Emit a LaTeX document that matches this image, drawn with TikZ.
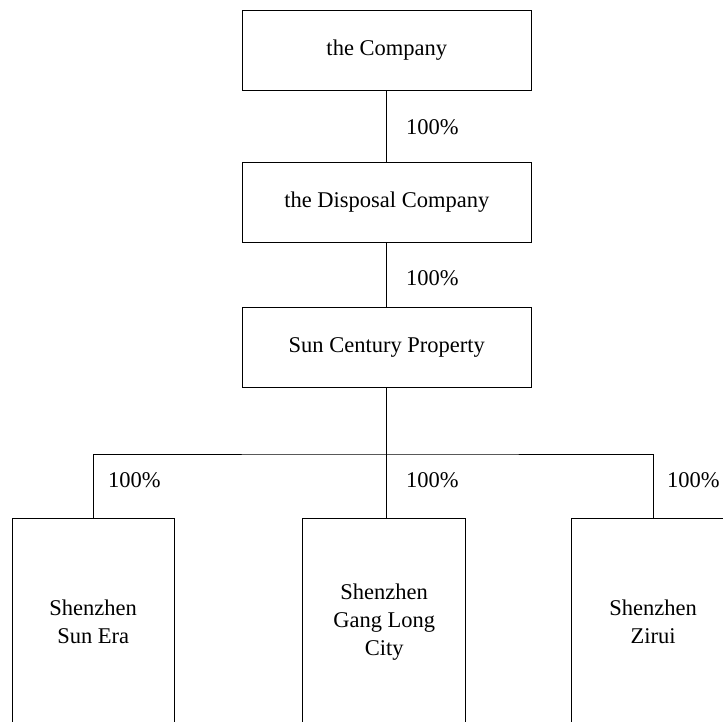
\documentclass[tikz,border=0pt]{standalone}
\usepackage{fontspec}
\setmainfont{Liberation Serif}
\begin{document}
\begin{tikzpicture}[x=1pt,y=-1pt,
  box/.style={draw=black,line width=0.9pt,rectangle,inner sep=0pt,align=center,
    font=\fontsize{22.5}{28}\selectfont},
  pct/.style={anchor=west,inner sep=0pt,font=\fontsize{22.5}{28}\selectfont},
  link/.style={draw=black,line width=0.9pt}]
\useasboundingbox (0,0) rectangle (723,722);
\node[box,minimum width=289.5pt,minimum height=80pt] (comp) at (386.8,50) {the Company};
\node[box,minimum width=289.5pt,minimum height=79.6pt] (disp) at (386.8,202.5) {the Disposal Company};
\node[box,minimum width=289.5pt,minimum height=80pt] (scp) at (386.8,347.2) {Sun Century Property};
\node[box,minimum width=162pt,minimum height=208pt] (se) at (93.2,622) {Shenzhen\\Sun Era};
\node[box,minimum width=163pt,minimum height=208pt] (gl) at (384.2,622) {Shenzhen\\Gang Long\\City};
\node[box,minimum width=163pt,minimum height=208pt] (zr) at (653.2,622) {Shenzhen\\Zirui};
\coordinate (j) at (386.8,454);
\path[link] (comp.south) -- (disp.north);
\path[link] (disp.south) -- (scp.north);
\path[link] (scp.south) -- (j);
\path[link] (se.north) |- (j) -| (zr.north);
\path[link] (j) -- (j |- gl.north);
\node[pct] (p1) at (406,127) {100\%};
\node[pct] (p2) at (406,278) {100\%};
\node[pct] (p3) at (108,480) {100\%};
\node[pct] (p4) at (406,480) {100\%};
\node[pct] (p5) at (667,480) {100\%};
\end{tikzpicture}
\end{document}
